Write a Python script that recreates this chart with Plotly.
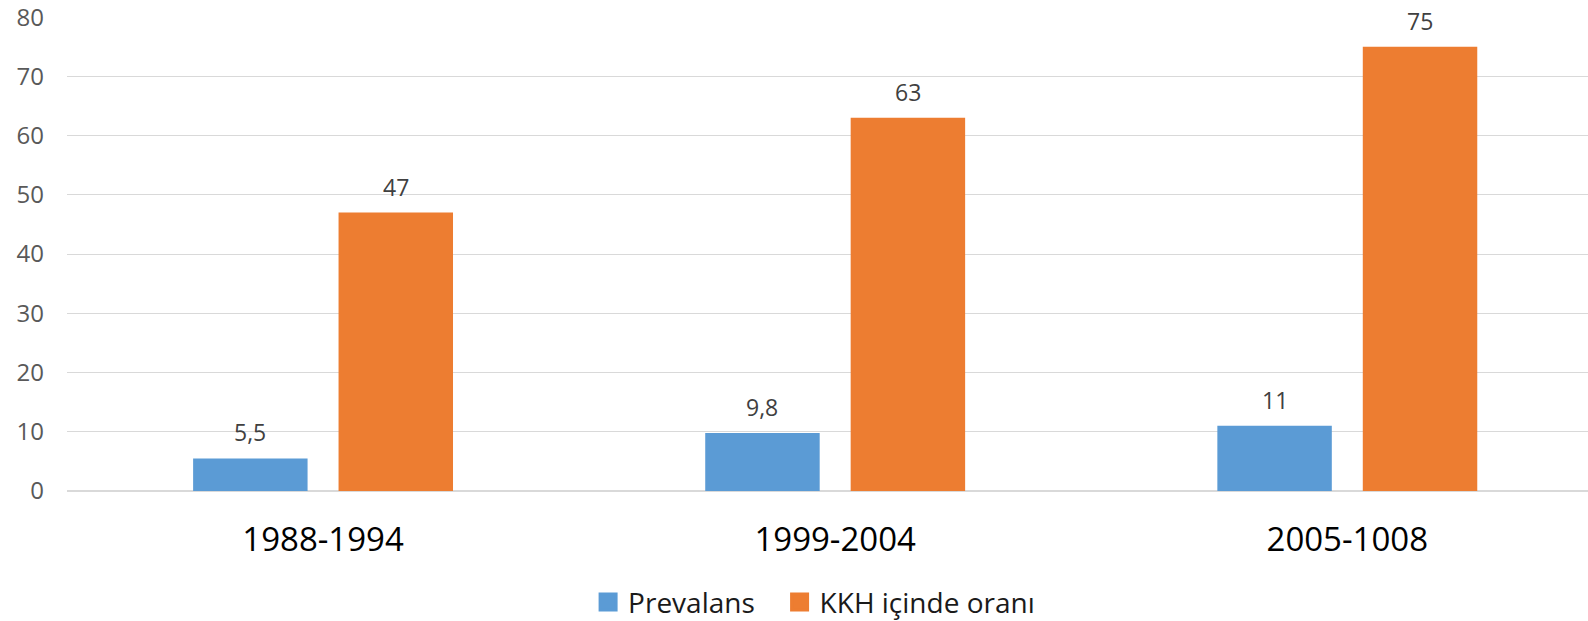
import plotly.graph_objects as go

categories = ["1988-1994", "1999-2004", "2005-1008"]
prevalans = [5.5, 9.8, 11]
kkh_orani = [47, 63, 75]
series_names = ["Prevalans", "KKH içinde oranı"]
colors = ["#5B9BD5", "#ED7D31"]
y_ticks = [0, 10, 20, 30, 40, 50, 60, 70, 80]

FONT = "Open Sans"
W, H = 1588, 621
fig = go.Figure()
legend_ids = ["legend", "legend2"]
for name, vals, col, lg in zip(series_names, [prevalans, kkh_orani], colors, legend_ids):
    fig.add_trace(go.Bar(x=categories, y=vals, name=name, marker_color=col,
                         marker_line_width=0, showlegend=False))
    fig.add_trace(go.Scatter(x=[None], y=[None], mode="markers", name=name, legend=lg,
                             marker=dict(symbol="square", size=16, color=col,
                                         line=dict(color=col, width=3))))

# data labels
for i, vals in enumerate([prevalans, kkh_orani]):
    shift = -72.75 if i == 0 else 72.75
    for c, v in zip(categories, vals):
        fig.add_annotation(x=c, y=v, xshift=shift, yshift=26, yanchor="middle",
                           text=f"{v:g}".replace(".", ","), showarrow=False,
                           font=dict(family=FONT, size=23, color="#404040"))

legend_font = dict(family=FONT, size=28, color="#1a1a1a")
fig.update_layout(
    width=W, height=H,
    margin=dict(l=67, r=0, t=16.5, b=130.3, autoexpand=False),
    plot_bgcolor="white", paper_bgcolor="white",
    barmode="group", bargap=0.432, bargroupgap=0.213,
    separators=",.",
    font=dict(family=FONT),
    showlegend=True,
    legend=dict(orientation="h", x=0.3426, xanchor="left", y=-0.2347, yanchor="middle",
                font=legend_font, bgcolor="rgba(0,0,0,0)"),
    legend2=dict(orientation="h", x=0.4685, xanchor="left", y=-0.2347, yanchor="middle",
                 font=legend_font, bgcolor="rgba(0,0,0,0)"),
)
fig.update_xaxes(range=[-0.5, 2.47], showgrid=False, showline=False, ticks="",
                 tickfont=dict(family=FONT, size=33, color="#000000"),
                 ticklabelstandoff=26)
fig.update_yaxes(range=[0, 80.02], tickvals=y_ticks, showgrid=True, gridcolor="#D9D9D9",
                 gridwidth=1.3, zeroline=True, zerolinecolor="#D9D9D9", zerolinewidth=1.5,
                 ticks="", tickfont=dict(family=FONT, size=24, color="#595959"),
                 ticklabelstandoff=22, ticklabeloverflow="allow")
fig.write_html("out.html", config={"displayModeBar": False},
               post_script="document.body.style.margin='0';")
